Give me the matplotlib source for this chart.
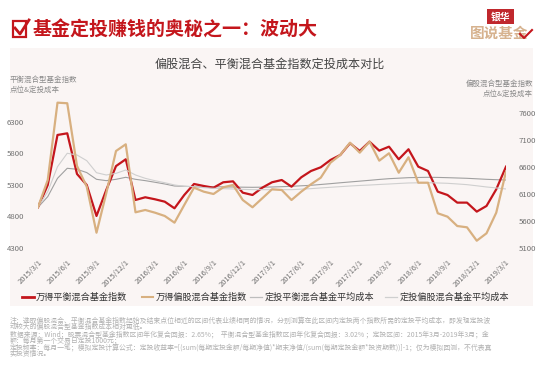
import matplotlib
matplotlib.use("Agg")
import matplotlib.pyplot as plt
from matplotlib.lines import Line2D
from matplotlib.patches import Rectangle
import numpy as np

plt.rcParams['font.family'] = ['Noto Sans CJK SC', 'DejaVu Sans']

# ---- data ----
tick_labels = ["2015/3/1", "2015/6/1", "2015/9/1", "2015/12/1", "2016/3/1", "2016/6/1",
               "2016/9/1", "2016/12/1", "2017/3/1", "2017/6/1", "2017/9/1", "2017/12/1",
               "2018/3/1", "2018/6/1", "2018/9/1", "2018/12/1", "2019/3/1"]

balanced_index = [4946, 5300, 6094, 6120, 5475, 5300, 4808, 5220, 5600, 5708,
                  5062, 5105, 5073, 5035, 4930, 5141, 5316, 5284, 5257, 5343,
                  5358, 5178, 5141, 5257, 5343, 5379, 5273, 5422, 5522, 5581,
                  5697, 5776, 5962, 5840, 5987, 5845, 5908, 5708, 5867, 5591,
                  5522, 5194, 5141, 5020, 5020, 4877, 4967, 5231, 5591]

equity_index = [5854, 6359, 7791, 7780, 6619, 6235, 5383, 6113, 6896, 7020,
                5761, 5804, 5754, 5693, 5569, 5896, 6217, 6143, 6100, 6224,
                6267, 5989, 5854, 6020, 6187, 6174, 5989, 6143, 6280, 6402,
                6680, 6822, 7050, 6865, 7069, 6717, 6854, 6494, 6780, 6309,
                6309, 5743, 5680, 5507, 5483, 5235, 5372, 5754, 6513]

balanced_cost = [4946, 5115, 5406, 5565, 5549, 5497, 5390, 5369, 5390, 5422,
                 5390, 5369, 5343, 5316, 5284, 5279, 5273, 5263, 5273, 5270,
                 5268, 5265, 5263, 5265, 5268, 5273, 5279, 5287, 5295, 5308,
                 5321, 5335, 5348, 5361, 5374, 5388, 5400, 5408, 5416, 5419,
                 5422, 5420, 5416, 5411, 5406, 5398, 5390, 5384, 5379]

equity_cost = [5854, 6143, 6605, 6854, 6822, 6717, 6494, 6452, 6482, 6544,
               6452, 6390, 6346, 6309, 6267, 6242, 6235, 6217, 6205, 6199,
               6193, 6186, 6180, 6180, 6180, 6180, 6180, 6190, 6199, 6212,
               6224, 6236, 6248, 6258, 6266, 6276, 6285, 6295, 6304, 6307,
               6309, 6304, 6298, 6286, 6273, 6252, 6230, 6212, 6193]

left_ticks = [4300, 4800, 5300, 5800, 6300]
right_ticks = [5100, 5600, 6100, 6600, 7100, 7600]

legend_labels = ["万得平衡混合基金指数", "万得偏股混合基金指数",
                 "定投平衡混合基金平均成本", "定投偏股混合基金平均成本"]

RED = "#c4161c"
GOLD = "#d8b080"
DGRAY = "#a0a0a0"
LGRAY = "#cfcfcf"

W, H = 545, 378
fig = plt.figure(figsize=(W / 100, H / 100), dpi=100)
fig.patch.set_facecolor("white")

def fx(px):
    return px / W

def fy(py):
    return 1 - py / H

# panel background
fig.add_artist(Rectangle((fx(10), fy(306)), fx(523), (306 - 48) / H,
                         transform=fig.transFigure, facecolor="#faf5f4",
                         edgecolor="none", zorder=0))

# title with check box icon
fig.add_artist(Rectangle((fx(13), fy(37)), fx(13), 16 / H, transform=fig.transFigure,
                         facecolor="none", edgecolor=RED, linewidth=1.6, zorder=2))
fig.add_artist(Line2D([fx(15), fx(20), fx(29)], [fy(28), fy(34), fy(20)],
                      transform=fig.transFigure, color=RED, linewidth=2.0, zorder=3))
fig.text(fx(33), fy(30), "基金定投赚钱的奥秘之一：波动大", color=RED, fontsize=13.7,
         fontweight="bold", ha="left", va="center")

# logo
fig.add_artist(Rectangle((fx(487), fy(23.5)), fx(27), 14 / H, transform=fig.transFigure,
                         facecolor="#c0282d", edgecolor="none", zorder=2))
fig.text(fx(500.5), fy(16.5), "银华", color="white", fontsize=7, fontweight="bold",
         ha="center", va="center", zorder=3)
fig.text(fx(499), fy(33), "图说基金", color="#d6b28e", fontsize=10.5, fontweight="bold",
         ha="center", va="center", zorder=3)
fig.add_artist(Line2D([fx(520), fx(524), fx(532)], [fy(34), fy(38), fy(30)],
                      transform=fig.transFigure, color=RED, linewidth=1.5, zorder=4))

# subtitle
fig.text(fx(270), fy(64), "偏股混合、平衡混合基金指数定投成本对比", color="#444444",
         fontsize=8.7, ha="center", va="center")

# axis captions
fig.text(fx(10), fy(80), "平衡混合型基金指数", color="#8a8a8a", fontsize=5.4,
         ha="left", va="center")
fig.text(fx(10), fy(90), "点位&定投成本", color="#8a8a8a", fontsize=5.4,
         ha="left", va="center")
fig.text(fx(533), fy(84), "偏股混合型基金指数", color="#8a8a8a", fontsize=5.4,
         ha="right", va="center")
fig.text(fx(533), fy(94), "点位&定投成本", color="#8a8a8a", fontsize=5.4,
         ha="right", va="center")

# axes
ax = fig.add_axes([fx(38), fy(250), fx(506 - 38), (250 - 85) / H])
ax.set_facecolor("none")
ax2 = ax.twinx()
x = np.arange(len(balanced_index))

ax.plot(x, balanced_cost, color=DGRAY, linewidth=0.8, zorder=2)
ax2.plot(x, equity_cost, color=LGRAY, linewidth=0.8, zorder=2)
ax.plot(x, balanced_index, color=RED, linewidth=1.6, zorder=3)
ax2.plot(x, equity_index, color=GOLD, linewidth=1.6, zorder=3)

ax.set_xlim(0, len(x) - 1)
ax.set_ylim(4268, 6887)
ax2.set_ylim(5063, 8118)
ax.set_yticks(left_ticks)
ax.set_yticklabels([str(v) for v in left_ticks])
ax2.set_yticks(right_ticks)
ax2.set_yticklabels([str(v) for v in right_ticks])
ax.set_xticks(np.arange(0, len(x), 3))
ax.set_xticklabels(tick_labels, rotation=45, ha="right", rotation_mode="anchor")

for a in (ax, ax2):
    for s in a.spines.values():
        s.set_visible(False)
    a.tick_params(length=0, labelsize=5.6, colors="#707070")
ax.tick_params(axis="y", pad=10)
ax2.tick_params(axis="y", pad=9)
ax.tick_params(axis="x", pad=6, labelsize=5.4)
ax2.set_zorder(ax.get_zorder() + 1)

# legend (manual)
leg_y = fy(297)
items = [(22, 34, 36, RED, 2.0), (142, 153, 156, GOLD, 1.5),
         (250, 262, 265, "#bdbdbd", 0.9), (385, 397, 400, LGRAY, 0.9)]
for (x0, x1, tx, col, lw), lab in zip(items, legend_labels):
    fig.add_artist(Line2D([fx(x0), fx(x1)], [leg_y, leg_y], transform=fig.transFigure,
                          color=col, linewidth=lw))
    fig.text(fx(tx), leg_y, lab, color="#333333", fontsize=6.6, ha="left", va="center")

# notes
notes = [
    "注：选取偏股混合、平衡混合基金指数起始及结束点位相近的区间代表业绩相同的情况，分别测算在此区间内定投两个指数所需的定投平均成本，即发现定投波",
    "动较大的偏股混合型基金指数成本相对更低。",
    "数据来源：Wind；股票混合型基金指数区间年化复合回报：2.65%；  平衡混合型基金指数区间年化复合回报：3.02% ；定投区间：2015年3月-2019年3月；金",
    "额：每月第一个交易日定投1000元；",
    "定投频率：每月一笔；模拟定投计算公式：定投收益率=[(sum(每期定投金额/每期净值)*期末净值/(sum(每期定投金额*投资期数))]-1；仅为模拟回测，不代表真",
    "实投资情况。",
]
for i, line in enumerate(notes):
    fig.text(fx(10), fy(320.5 + i * 6.75), line, color="#b0b0b0", fontsize=4.95,
             ha="left", va="center")

fig.savefig("out.png", dpi=100, facecolor="white")
